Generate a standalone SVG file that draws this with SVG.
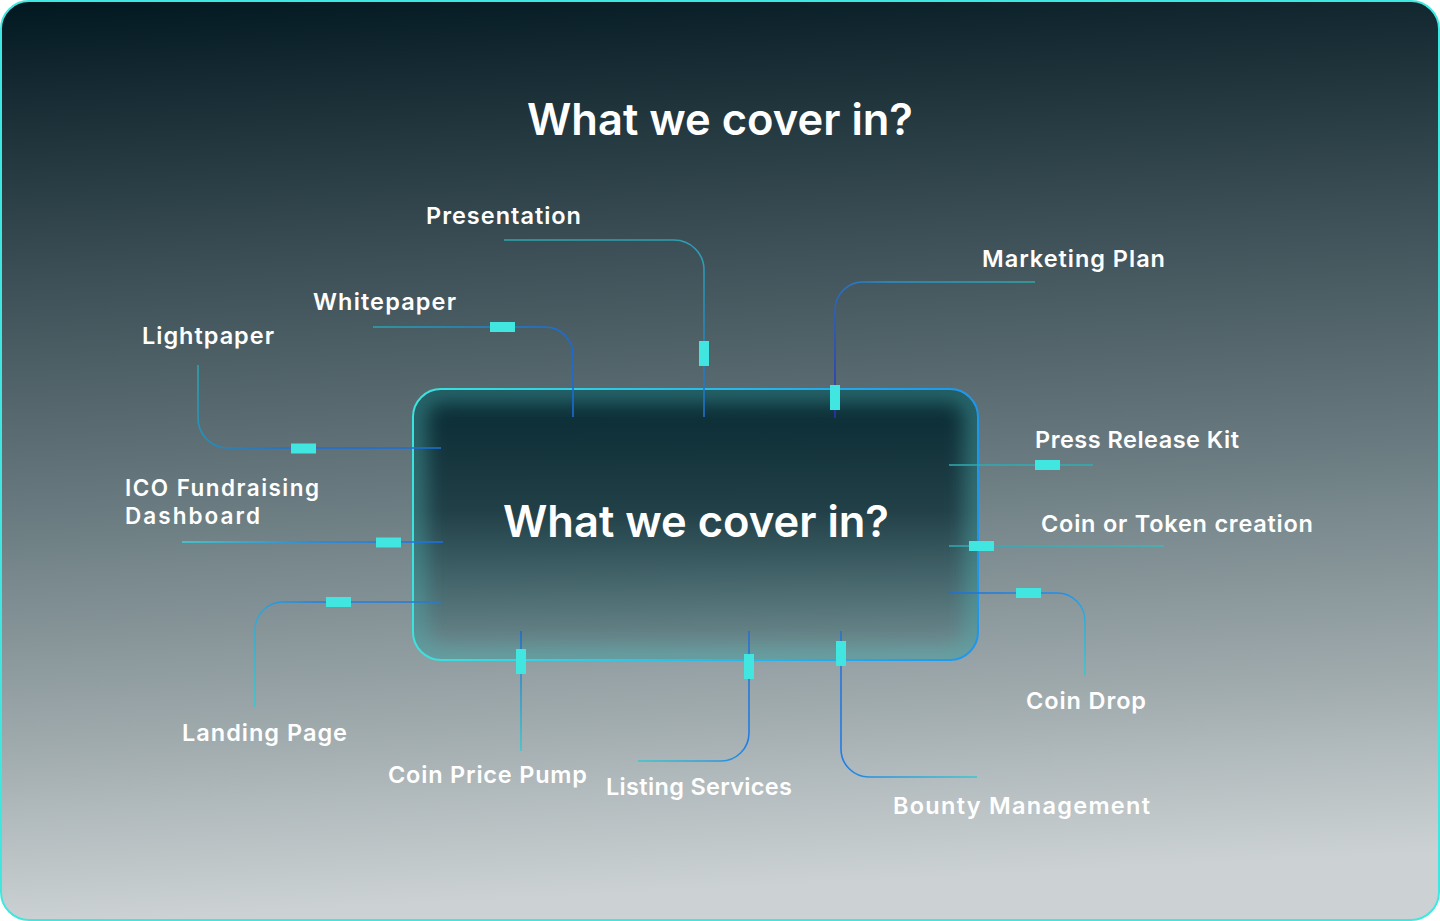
<svg xmlns="http://www.w3.org/2000/svg" width="1440" height="921" viewBox="0 0 1440 921">
<style>
.lbl{font-family:Inter,"Open Sans","Liberation Sans",sans-serif;font-weight:600;font-size:23.5px;fill:#ffffff}
.lbs{font-family:Inter,"Open Sans","Liberation Sans",sans-serif;font-weight:600;font-size:22.5px;fill:#ffffff}
.ttl{font-family:Inter,"Open Sans","Liberation Sans",sans-serif;font-weight:600;font-size:44px;fill:#ffffff}
.con{fill:none;stroke-width:1.6}
.mk{fill:#40e6df}
</style>
<defs>
<linearGradient id="bg" x1="0" y1="0" x2="0.08" y2="1">
<stop offset="0" stop-color="#021820"/>
<stop offset="0.3" stop-color="#3c4f56"/>
<stop offset="0.55" stop-color="#687a7f"/>
<stop offset="0.8" stop-color="#9ea9ac"/>
<stop offset="1" stop-color="#ccd2d4"/>
</linearGradient>
<linearGradient id="boxFill" x1="0" y1="0" x2="0" y2="1">
<stop offset="0" stop-color="#082a33" stop-opacity="1"/>
<stop offset="0.45" stop-color="#14343c" stop-opacity="0.85"/>
<stop offset="1" stop-color="#1c5a60" stop-opacity="0.25"/>
</linearGradient>
<linearGradient id="boxStroke" x1="0" y1="0" x2="1" y2="0">
<stop offset="0" stop-color="#3be3df"/>
<stop offset="1" stop-color="#1d96f0"/>
</linearGradient>
<filter id="blur" x="-10%" y="-10%" width="120%" height="120%"><feGaussianBlur stdDeviation="10"/></filter>
<clipPath id="boxClip"><rect x="413" y="389" width="565" height="271" rx="28"/></clipPath>
<linearGradient id="g1" gradientUnits="userSpaceOnUse" x1="198" y1="365" x2="300" y2="448"><stop offset="0" stop-color="#2aa3b0"/><stop offset="1" stop-color="#1a6fd6"/></linearGradient>
<linearGradient id="g2" gradientUnits="userSpaceOnUse" x1="373" y1="327" x2="573" y2="327"><stop offset="0" stop-color="#2aa6b0"/><stop offset="1" stop-color="#1a6ad6"/></linearGradient>
<linearGradient id="g3" gradientUnits="userSpaceOnUse" x1="504" y1="240" x2="704" y2="417"><stop offset="0" stop-color="#2ea6aa"/><stop offset="0.6" stop-color="#2d9db2"/><stop offset="1" stop-color="#1f6ec8"/></linearGradient>
<linearGradient id="g4" gradientUnits="userSpaceOnUse" x1="1035" y1="282" x2="835" y2="418"><stop offset="0" stop-color="#2fa7a8"/><stop offset="0.5" stop-color="#2a8fc8"/><stop offset="1" stop-color="#2a30b8"/></linearGradient>
<linearGradient id="g5" gradientUnits="userSpaceOnUse" x1="949" y1="465" x2="1093" y2="465"><stop offset="0" stop-color="#2fa9b2"/><stop offset="1" stop-color="#2fb0b0"/></linearGradient>
<linearGradient id="g6" gradientUnits="userSpaceOnUse" x1="949" y1="546" x2="1164" y2="546"><stop offset="0" stop-color="#30a8b6"/><stop offset="1" stop-color="#3ab8b8"/></linearGradient>
<linearGradient id="g7" gradientUnits="userSpaceOnUse" x1="949" y1="593" x2="1085" y2="676"><stop offset="0" stop-color="#1e6fd8"/><stop offset="0.6" stop-color="#1e8ff0"/><stop offset="1" stop-color="#3cc6cc"/></linearGradient>
<linearGradient id="g8" gradientUnits="userSpaceOnUse" x1="182" y1="542" x2="443" y2="542"><stop offset="0" stop-color="#3bd2dc"/><stop offset="0.5" stop-color="#1e8ee8"/><stop offset="1" stop-color="#1a6fe8"/></linearGradient>
<linearGradient id="g9" gradientUnits="userSpaceOnUse" x1="441" y1="602" x2="255" y2="707"><stop offset="0" stop-color="#2a78d0"/><stop offset="0.5" stop-color="#1e80e8"/><stop offset="1" stop-color="#3cc6cc"/></linearGradient>
<linearGradient id="g10" gradientUnits="userSpaceOnUse" x1="521" y1="631" x2="521" y2="751"><stop offset="0" stop-color="#1e6ad0"/><stop offset="1" stop-color="#3cc8cc"/></linearGradient>
<linearGradient id="g11" gradientUnits="userSpaceOnUse" x1="749" y1="631" x2="638" y2="761"><stop offset="0" stop-color="#2a70d0"/><stop offset="0.5" stop-color="#1e7ee8"/><stop offset="1" stop-color="#3cc6cc"/></linearGradient>
<linearGradient id="g12" gradientUnits="userSpaceOnUse" x1="841" y1="631" x2="977" y2="777"><stop offset="0" stop-color="#2a70d0"/><stop offset="0.5" stop-color="#1e7ee8"/><stop offset="1" stop-color="#3cc6cc"/></linearGradient>
</defs>

<rect x="0" y="0" width="1440" height="921" fill="#ffffff"/>
<rect id="frame" x="1" y="1" width="1438" height="919" rx="28" fill="url(#bg)" stroke="#3ee8e0" stroke-width="2"/>

<text id="title" class="ttl" x="527" y="135" textLength="386" lengthAdjust="spacingAndGlyphs">What we cover in?</text>

<g id="center">
<rect x="413" y="389" width="565" height="271" rx="28" fill="url(#boxFill)"/>
<g clip-path="url(#boxClip)">
<rect x="413" y="389" width="565" height="271" rx="28" fill="none" stroke="#4fb8b8" stroke-opacity="0.45" stroke-width="26" filter="url(#blur)"/>
</g>
<rect x="413" y="389" width="565" height="271" rx="28" fill="none" stroke="url(#boxStroke)" stroke-width="2"/>
<text class="ttl" x="503" y="537" textLength="386" lengthAdjust="spacingAndGlyphs">What we cover in?</text>
</g>

<g id="connectors">
<path class="con" stroke="url(#g1)" d="M198,365 V418 A30,30 0 0 0 228,448 H441"/>
<path class="con" stroke="url(#g2)" d="M373,327 H545 A28,28 0 0 1 573,355 V417"/>
<path class="con" stroke="url(#g3)" d="M504,240 H674 A30,30 0 0 1 704,270 V417"/>
<path class="con" stroke="url(#g4)" d="M1035,282 H863 A28,28 0 0 0 835,310 V418"/>
<path class="con" stroke="url(#g5)" d="M949,465 H1093"/>
<path class="con" stroke="url(#g6)" d="M949,546 H1164"/>
<path class="con" stroke="url(#g7)" d="M949,593 H1057 A28,28 0 0 1 1085,621 V676"/>
<path class="con" stroke="url(#g8)" d="M182,542 H443"/>
<path class="con" stroke="url(#g9)" d="M441,602 H283 A28,28 0 0 0 255,630 V707"/>
<path class="con" stroke="url(#g10)" d="M521,631 V751"/>
<path class="con" stroke="url(#g11)" d="M749,631 V733 A28,28 0 0 1 721,761 H638"/>
<path class="con" stroke="url(#g12)" d="M841,631 V749 A28,28 0 0 0 869,777 H977"/>
<rect class="mk" x="291" y="443.5" width="25" height="10"/>
<rect class="mk" x="490" y="322" width="25" height="10"/>
<rect class="mk" x="699" y="341" width="10" height="25"/>
<rect class="mk" x="830" y="385" width="10" height="25"/>
<rect class="mk" x="1035" y="460" width="25" height="10"/>
<rect class="mk" x="969" y="541" width="25" height="10"/>
<rect class="mk" x="1016" y="588" width="25" height="10"/>
<rect class="mk" x="376" y="537.5" width="25" height="10"/>
<rect class="mk" x="326" y="597" width="25" height="10"/>
<rect class="mk" x="516" y="649" width="10" height="25"/>
<rect class="mk" x="744" y="654" width="10" height="25"/>
<rect class="mk" x="836" y="641" width="10" height="25"/>
</g>

<g id="n-presentation"><text class="lbl" x="426" y="224" textLength="155">Presentation</text></g>
<g id="n-marketing"><text class="lbl" x="982" y="267" textLength="183">Marketing Plan</text></g>
<g id="n-whitepaper"><text class="lbl" x="313" y="310" textLength="143">Whitepaper</text></g>
<g id="n-lightpaper"><text class="lbl" x="142" y="344" textLength="132">Lightpaper</text></g>
<g id="n-press"><text class="lbl" x="1035" y="448" textLength="204">Press Release Kit</text></g>
<g id="n-token"><text class="lbl" x="1041" y="532" textLength="272">Coin or Token creation</text></g>
<g id="n-ico"><text class="lbs" x="125" y="496" textLength="194">ICO Fundraising</text><text class="lbs" x="125" y="524" textLength="135">Dashboard</text></g>
<g id="n-coindrop"><text class="lbl" x="1026" y="709" textLength="120">Coin Drop</text></g>
<g id="n-landing"><text class="lbl" x="182" y="741" textLength="165">Landing Page</text></g>
<g id="n-pump"><text class="lbl" x="388" y="783" textLength="199">Coin Price Pump</text></g>
<g id="n-listing"><text class="lbl" x="606" y="795" textLength="186">Listing Services</text></g>
<g id="n-bounty"><text class="lbl" x="893" y="814" textLength="257">Bounty Management</text></g>
</svg>
